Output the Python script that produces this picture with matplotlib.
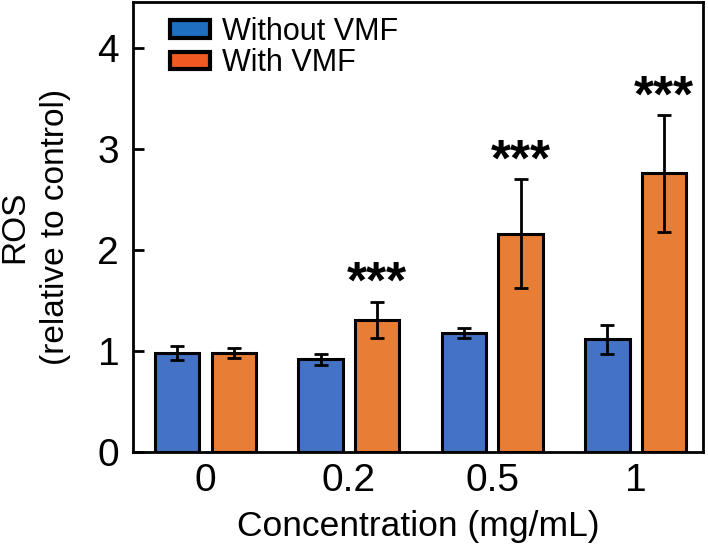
import numpy as np
import matplotlib
matplotlib.use("Agg")
import matplotlib.pyplot as plt
from matplotlib.patches import Patch

plt.rcParams['font.family'] = ['Liberation Sans', 'DejaVu Sans']

concs = ['0', '0.2', '0.5', '1']
without_vmf = [0.98, 0.92, 1.175, 1.115]
without_err = [0.07, 0.055, 0.05, 0.14]
with_vmf = [0.98, 1.31, 2.16, 2.76]
with_err = [0.05, 0.18, 0.54, 0.58]
stars = ['', '***', '***', '***']

blue = '#4472C4'
orange = '#E87D36'

fig = plt.figure(figsize=(7.08, 5.48), dpi=100)
ax = fig.add_axes([0.188, 0.175, 0.805, 0.821])

x = np.arange(len(concs))
w = 0.31
off = 0.197
ekw = dict(elinewidth=2, capthick=2)
ax.bar(x - off, without_vmf, w, yerr=without_err, color=blue, edgecolor='black',
       linewidth=2.2, capsize=5, error_kw=ekw, zorder=2)
ax.bar(x + off, with_vmf, w, yerr=with_err, color=orange, edgecolor='black',
       linewidth=2.2, capsize=5, error_kw=ekw, zorder=2)

for i, s in enumerate(stars):
    if s:
        ax.text(x[i] + off, with_vmf[i] + with_err[i] + 0.17, s, ha='center',
                va='center', fontsize=37, fontweight='bold')

ax.set_xlim(-0.505, 3.47)
ax.set_ylim(0, 4.455)
ax.set_xticks(x)
ax.set_xticklabels(concs)
ax.set_yticks([0, 1, 2, 3, 4])
ax.tick_params(axis='y', direction='in', length=8, width=2, labelsize=28, pad=10)
ax.tick_params(axis='x', length=0, labelsize=28, pad=8)
for sp in ax.spines.values():
    sp.set_linewidth(2)

ax.set_xlabel('Concentration (mg/mL)', fontsize=25.5, labelpad=8)
ax.set_ylabel('ROS\n(relative to control)', fontsize=24, labelpad=19, linespacing=1.4)

handles = [Patch(facecolor='#1E6FC0', edgecolor='black', linewidth=3),
           Patch(facecolor='#F05A22', edgecolor='black', linewidth=3)]
ax.legend(handles, ['Without VMF', 'With VMF'], loc='upper left', fontsize=22,
          frameon=False, handlelength=1.3, handleheight=0.5, handletextpad=0.4,
          labelspacing=0.05, borderaxespad=0.0, bbox_to_anchor=(0.043, 0.995))

fig.savefig('out.png', dpi=100)
